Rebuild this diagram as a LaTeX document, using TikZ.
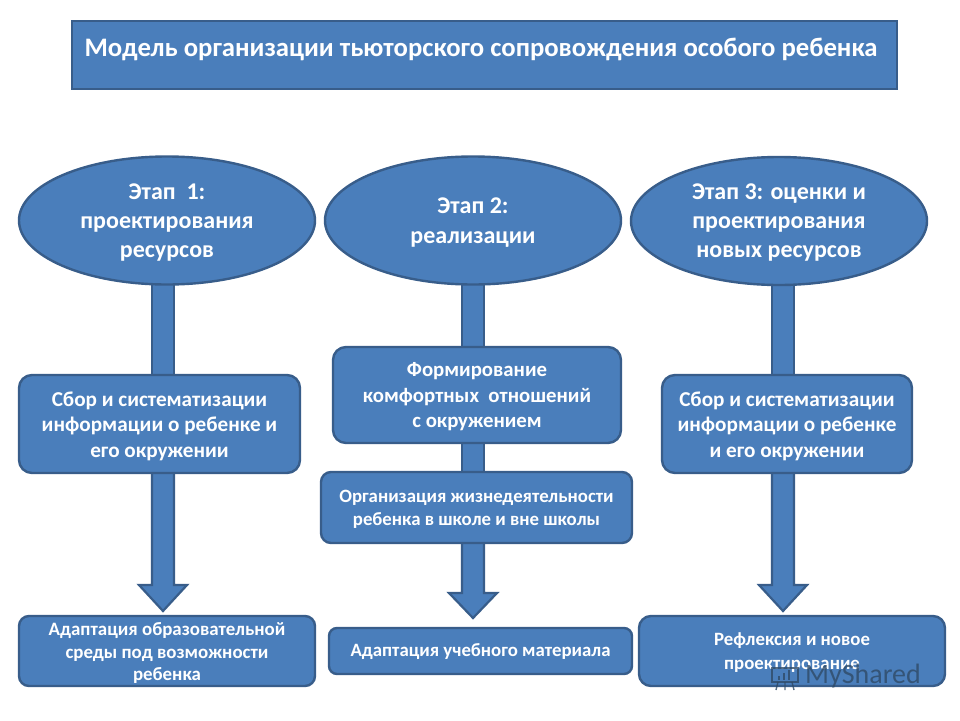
\documentclass[tikz,border=0pt]{standalone}
\usepackage{fontspec}
\setmainfont{Carlito}
\usetikzlibrary{shapes.geometric,calc}
\definecolor{bfill}{HTML}{4A7EBB}
\definecolor{bline}{HTML}{385D8A}
\definecolor{wm}{HTML}{2F4A66}
\newcommand{\fs}[2]{\bfseries\fontsize{#1}{#2}\selectfont}
\tikzset{
  x=1pt,y=-1pt,
  shapeline/.style={draw=bline,line width=2.4pt,fill=bfill},
  txt/.style={text=white,align=center,inner sep=0pt,outer sep=0pt},
  lab/.style={txt,yshift=-2pt},
  oval/.style={shapeline,inner sep=0pt,outer sep=0pt,ellipse,minimum width=296pt,minimum height=128pt},
  rbox/.style={shapeline,inner sep=0pt,outer sep=0pt,rectangle,rounded corners=13pt},
  arrowbody/.style={draw=bline,line width=2.2pt,fill=bfill,line join=miter},
}
\newcommand{\shaft}[2]{%
  \path[arrowbody] ($(#1)+(-11,0)$) -- ($(#2)+(-11,0)$) -- ($(#2)+(11,0)$) -- ($(#1)+(11,0)$) -- cycle;}
\newcommand{\headed}[3]{%
  \path[arrowbody] ($(#1)+(-11,0)$) -- ($(#2)+(-11,-#3)$) -- ($(#2)+(-24,-#3)$) -- (#2) -- ($(#2)+(24,-#3)$) -- ($(#2)+(11,-#3)$) -- ($(#1)+(11,0)$) -- cycle;}
\begin{document}
\begin{tikzpicture}
\useasboundingbox (0,0) rectangle (960,720);
\fill[white] (0,0) rectangle (960,720);
\coordinate (tipL) at (163,611);
\coordinate (tipC) at (473,618);
\coordinate (tipR) at (783,611);
\coordinate (e1s) at (163,280);
\coordinate (e2s) at (473,280);
\coordinate (e3s) at (783,280);
\coordinate (b1n) at (163,380);
\coordinate (b2n) at (473,352);
\coordinate (b3n) at (783,380);
\coordinate (b1s) at (163,470);
\coordinate (b2s) at (473,440);
\coordinate (c2n) at (473,476);
\coordinate (c2s) at (473,540);
\coordinate (b3s) at (783,470);

\shaft{e1s}{b1n}
\shaft{e2s}{b2n}
\shaft{e3s}{b3n}
\shaft{b2s}{c2n}
\headed{b1s}{tipL}{26}
\headed{c2s}{tipC}{25}
\headed{b3s}{tipR}{26}

\node[shapeline,txt,rectangle,minimum width=825pt,minimum height=68pt,font=\fs{26.7}{30}] (title) at (484.5,55)
  {\hspace*{-7pt}\raisebox{15pt}{Модель организации тьюторского сопровождения особого ребенка}};

\node[oval,label={[lab,font=\fs{24}{29}]center:{Этап\ \ 1:\\проектирования\\ресурсов}}] (e1) at (167,220.5) {};
\node[oval,label={[lab,font=\fs{24}{30}]center:{Этап 2:\\реализации}}] (e2) at (473,220.5) {};
\node[oval,label={[lab,font=\fs{24}{29}]center:{Этап 3: оценки и\\проектирования\\новых ресурсов}}] (e3) at (779,221) {};

\node[rbox,minimum width=281pt,minimum height=98pt,label={[lab,font=\fs{21.2}{25.5}]center:{Сбор и систематизации\\информации о ребенке и\\его окружении}}] (b1) at (159.5,424) {};
\node[rbox,minimum width=288pt,minimum height=96pt,label={[lab,font=\fs{20.8}{25.5}]center:{Формирование\\комфортных\ \ отношений\\с окружением}}] (b2) at (477,395) {};
\node[rbox,minimum width=250pt,minimum height=98pt,label={[lab,font=\fs{21.2}{25.5}]center:{Сбор и систематизации\\информации о ребенке\\и его окружении}}] (b3) at (787,424) {};
\node[rbox,rounded corners=10pt,minimum width=311pt,minimum height=71pt,label={[lab,font=\fs{18.8}{23}]center:{Организация жизнедеятельности\\ребенка в школе и вне школы}}] (c2) at (476.5,507.5) {};

\node[rbox,rounded corners=10pt,minimum width=296pt,minimum height=70pt,label={[lab,font=\fs{18.9}{22.5}]center:{Адаптация образовательной\\среды под возможности\\ребенка}}] (d1) at (167,651) {};
\node[rbox,rounded corners=8pt,minimum width=303pt,minimum height=46pt,label={[lab,yshift=1pt,font=\fs{18.8}{20}]center:{Адаптация учебного материала}}] (d2) at (480.5,651) {};
\node[rbox,rounded corners=12pt,minimum width=306pt,minimum height=70pt,label={[lab,font=\fs{18.8}{24}]center:{Рефлексия и новое\\проектирование}}] (d3) at (792,651) {};

\node[text=wm,opacity=.8,inner sep=0pt,anchor=west,font=\fontsize{28}{30}\selectfont] (wmark) at (805,676) {MyShared};
\begin{scope}[wm,opacity=.8]
  \draw[line width=1.6pt] (772,668) rectangle (798,682);
  \fill (778,676) rectangle (780,680);
  \fill (783,673) rectangle (785,680);
  \fill (788,670) rectangle (790,680);
  \draw[line width=1.4pt] (778,682) -- (776,690) (785,682) -- (785,690) (792,682) -- (794,690);
\end{scope}
\end{tikzpicture}
\end{document}
